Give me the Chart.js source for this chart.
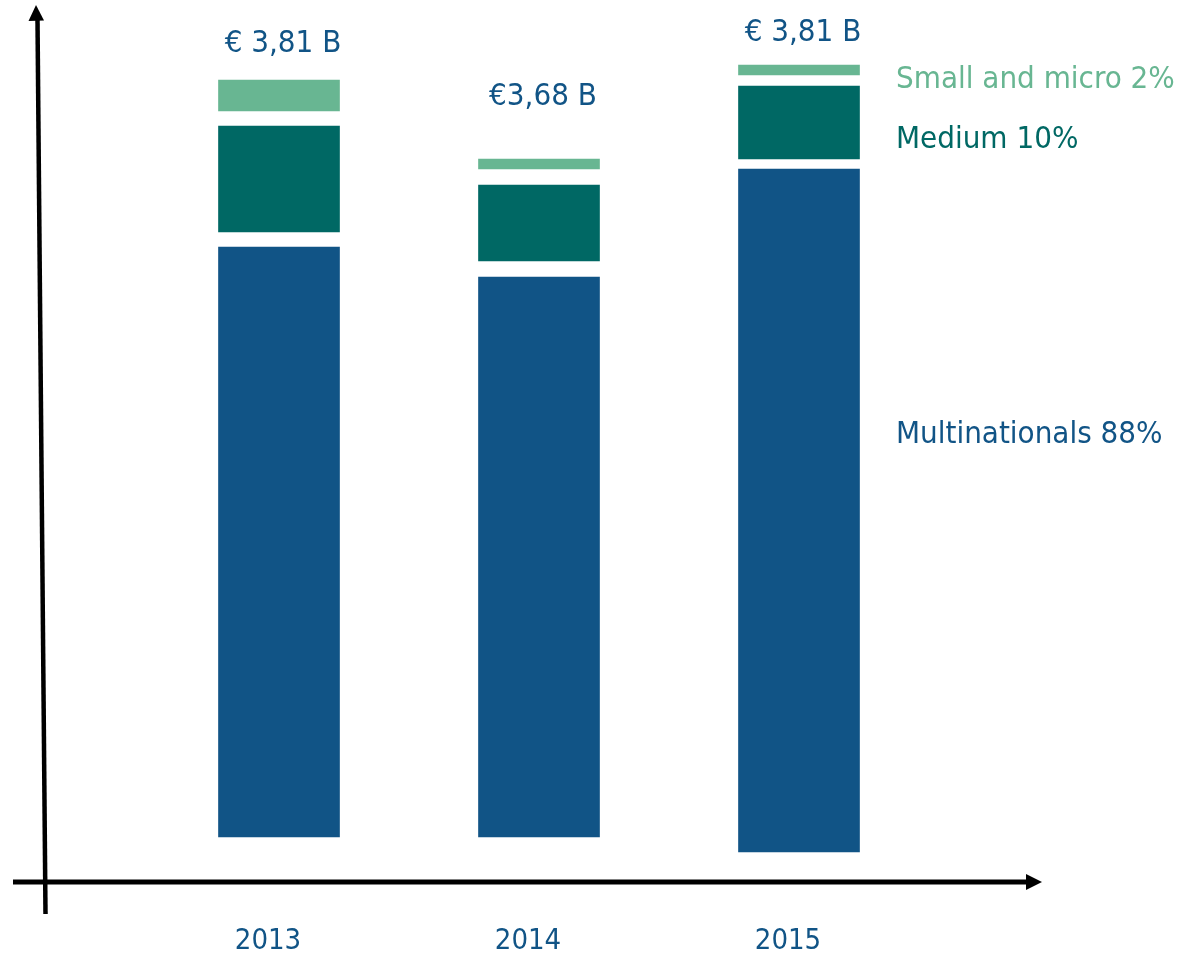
<!DOCTYPE html>
<html lang="en">
<head>
  <meta charset="UTF-8">
  <title>Total by company size</title>
  <script src="https://cdn.jsdelivr.net/npm/chart.js"></script>
  <style>
    html, body { margin: 0; padding: 0; background: #fff; }
    .chart-container { width: 1187px; height: 957px; position: relative; }
  </style>
</head>
<body>
  <div class="chart-container">
    <canvas id="sizeChart"></canvas>
  </div>

<script>
  // years on the x axis
  const years = ['2013', '2014', '2015'];

  // total shown above each bar
  const totals = ['€ 3,81 B', '€3,68 B', '€ 3,81 B'];

  // floating segments [from, to] (axis units)
  const multinationals = [[45, 635], [45, 605], [30, 713]];
  const medium         = [[650, 756], [621, 697], [723, 796]];
  const smallMicro     = [[771, 802], [713, 723], [807, 817]];

  // labels on the right
  const segmentLabels = ['Small and micro 2%', 'Medium 10%', 'Multinationals 88%'];

  const BLUE  = '#115486';
  const TEAL  = '#006864';
  const GREEN = '#68b692';
  const FONT  = "31px 'DejaVu Sans Condensed', 'DejaVu Sans', sans-serif";
  const YEAR_FONT = "29px 'DejaVu Sans Condensed', 'DejaVu Sans', sans-serif";

  // extra lift of each total label above its bar
  const totalLift = [28, 54, 24];
  // right-hand labels: baseline in axis units
  const labelLevels = [794, 734, 439];
  const labelColors = [GREEN, TEAL, BLUE];

  const decorations = {
    id: 'decorations',
    afterDraw(chart) {
      const ctx = chart.ctx;
      const xs = chart.scales.x, ys = chart.scales.y;
      const base = ys.getPixelForValue(0);
      ctx.save();
      ctx.fillStyle = '#000';
      ctx.strokeStyle = '#000';

      // x axis arrow
      ctx.lineWidth = 5;
      ctx.beginPath();
      ctx.moveTo(13, base);
      ctx.lineTo(1028, base);
      ctx.stroke();
      ctx.beginPath();
      ctx.moveTo(1042, base);
      ctx.lineTo(1026, base - 8);
      ctx.lineTo(1026, base + 8);
      ctx.closePath();
      ctx.fill();

      // y axis arrow (slightly tilted)
      ctx.lineWidth = 4.5;
      ctx.beginPath();
      ctx.moveTo(45.5, 914);
      ctx.lineTo(37.5, 20);
      ctx.stroke();
      ctx.beginPath();
      ctx.moveTo(36, 5);
      ctx.lineTo(28.5, 21);
      ctx.lineTo(44, 20.5);
      ctx.closePath();
      ctx.fill();

      ctx.textAlign = 'center';
      ctx.textBaseline = 'alphabetic';

      // year labels
      ctx.font = YEAR_FONT;
      ctx.fillStyle = BLUE;
      years.forEach((y, i) => {
        ctx.fillText(y, xs.getPixelForValue(i) - 11, 949);
      });

      // totals above bars
      ctx.font = FONT;
      totals.forEach((t, i) => {
        const top = ys.getPixelForValue(smallMicro[i][1]);
        ctx.fillText(t, xs.getPixelForValue(i) + 4, top - totalLift[i]);
      });

      // segment labels on the right
      ctx.textAlign = 'left';
      segmentLabels.forEach((s, i) => {
        ctx.fillStyle = labelColors[i];
        ctx.fillText(s, 896, ys.getPixelForValue(labelLevels[i]));
      });
      ctx.restore();
    }
  };

  const ctx = document.getElementById('sizeChart').getContext('2d');
  new Chart(ctx, {
    type: 'bar',
    data: {
      labels: years,
      datasets: [
        { label: 'Multinationals', data: multinationals, backgroundColor: BLUE, grouped: false },
        { label: 'Medium', data: medium, backgroundColor: TEAL, grouped: false },
        { label: 'Small and micro', data: smallMicro, backgroundColor: GREEN, grouped: false }
      ]
    },
    options: {
      responsive: true,
      maintainAspectRatio: false,
      animation: false,
      barThickness: 121,
      layout: { padding: { left: 149, right: 258, top: 0, bottom: 75 } },
      plugins: { legend: { display: false }, tooltip: { enabled: false } },
      scales: {
        x: { display: false, offset: true },
        y: { display: false, min: 0, max: 882 }
      }
    },
    plugins: [decorations]
  });
</script>
</body>
</html>
